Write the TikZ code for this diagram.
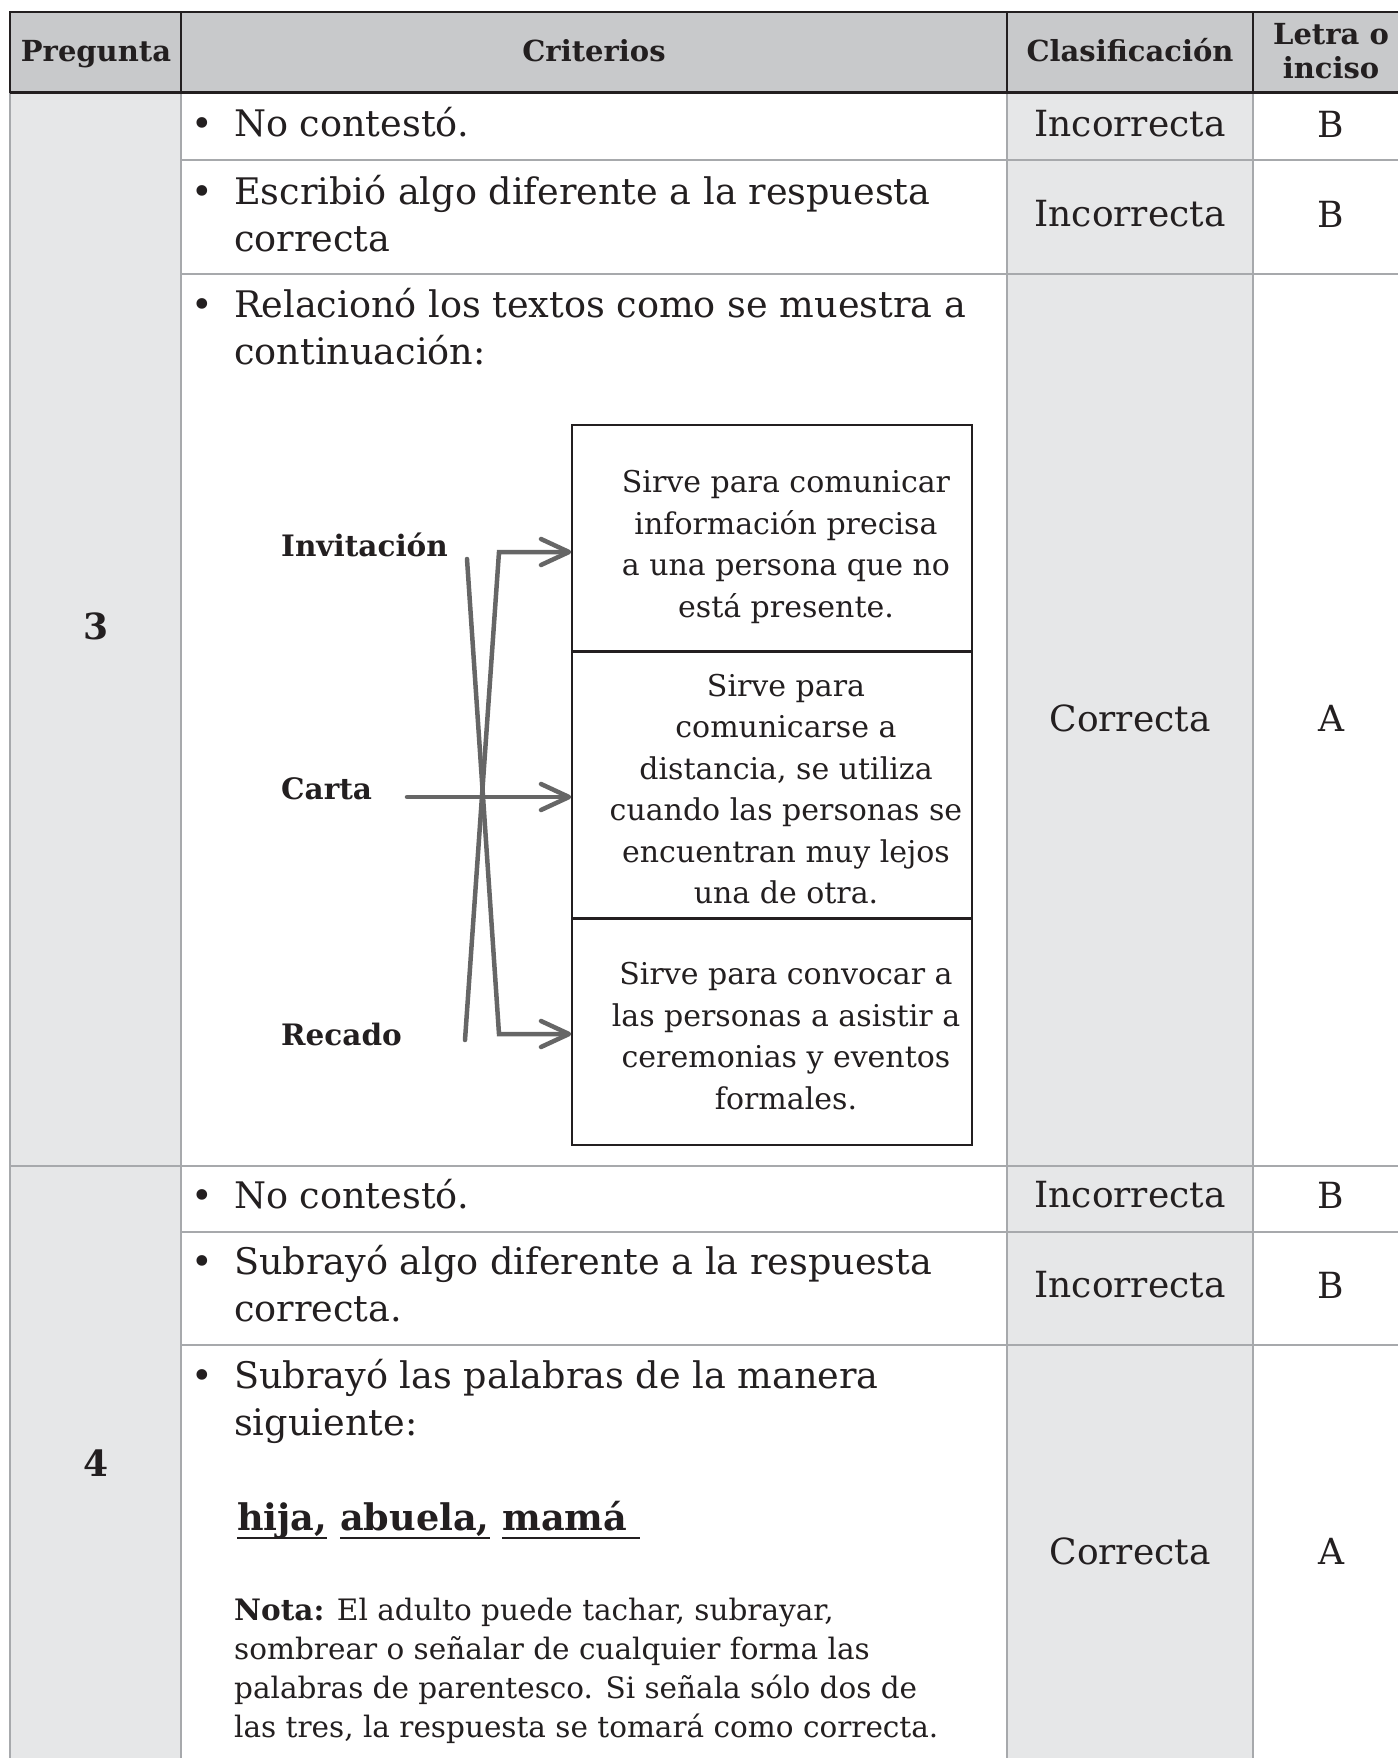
\documentclass[tikz,border=0pt]{standalone}
\usepackage{fontspec}
\setmainfont{DejaVu Serif}
\usepackage{tikz}
\usetikzlibrary{positioning, arrows.meta}
\definecolor{headgray}{RGB}{200,201,203}
\definecolor{cellgray}{RGB}{230,231,232}
\definecolor{rulegray}{RGB}{167,169,172}
\definecolor{darkline}{RGB}{35,31,32}
\definecolor{linkgray}{RGB}{102,102,102}
\tikzstyle{head} = [inner sep=0pt, anchor=base, align=center, font=\fontsize{29}{34}\selectfont\bfseries, text=darkline]
\tikzstyle{crit} = [inner sep=0pt, anchor=base west, align=left, font=\fontsize{36.6}{47}\selectfont, text=darkline]
\tikzstyle{grade} = [inner sep=0pt, font=\fontsize{36}{47}\selectfont, text=darkline]
\tikzstyle{qnum} = [inner sep=0pt, font=\fontsize{36}{43}\selectfont\bfseries, text=darkline]
\tikzstyle{kind} = [inner sep=0pt, anchor=west, font=\fontsize{29.5}{35}\selectfont\bfseries, text=darkline]
\tikzstyle{optbox} = [draw=darkline, line width=1.5pt, minimum width=400pt, inner sep=0pt]
\tikzstyle{opttext} = [inner sep=0pt, align=center, font=\fontsize{30}{41.5}\selectfont, text=darkline]
\tikzstyle{note} = [inner sep=0pt, anchor=base west, align=left, font=\fontsize{29.5}{39}\selectfont, text=darkline]
\tikzstyle{arrow} = [line width=4.5pt, draw=linkgray, line cap=round, -{Straight Barb[length=28pt,width=26pt,round]}]
\newcommand{\itembullet}{\llap{\textbullet\hspace{21pt}}}
\newsavebox{\palabrabox}
\newcommand{\subraya}[1]{\sbox{\palabrabox}{#1}\rlap{\rule[-9pt]{\wd\palabrabox}{2.5pt}}\usebox{\palabrabox}}

\begin{document}
\begin{tikzpicture}[x=1pt, y=-1pt]
\useasboundingbox (0,0) rectangle (1398,1758);
% fondos
\fill[headgray] (10,12) rectangle (1398,93);
\fill[cellgray] (10,93) rectangle (181,1758);
\fill[cellgray] (1007,93) rectangle (1253,1758);
% lineas de la tabla
\foreach \y in {160,274,1232,1345}
  \draw[rulegray, line width=2pt] (181,\y) -- (1398,\y);
\draw[rulegray, line width=2pt] (10,1166) -- (1398,1166);
\foreach \x in {10,181,1007,1253}
  \draw[rulegray, line width=2pt] (\x,93) -- (\x,1758);
\draw[darkline, line width=2pt] (1398,12) -- (10,12) -- (10,93);
\foreach \x in {181,1007,1253}
  \draw[darkline, line width=2pt] (\x,12) -- (\x,93);
\draw[darkline, line width=3pt] (10,93) -- (1398,93);

% encabezado
\node (hpreg) [head] at (96,62) {Pregunta};
\node (hcrit) [head] at (594,62) {Criterios};
\node (hclas) [head] at (1130,62) {Clasificación};
\node (hletra) [head] at (1331,79) {Letra o\\inciso};

% pregunta 3
\node (q3) [qnum] at (96,626) {3};
\node (q3a) [crit] at (234,137) {\itembullet No contestó.};
\node (q3b) [crit] at (234,251) {\itembullet Escribió algo diferente a la respuesta\\correcta};
\node (q3c) [crit] at (234,364) {\itembullet Relacionó los textos como se muestra a\\continuación:};
\node (c3a) [grade] at (1130,124) {Incorrecta};
\node (c3b) [grade] at (1130,214) {Incorrecta};
\node (c3c) [grade] at (1130,718) {Correcta};
\node (l3a) [grade] at (1331,124) {B};
\node (l3b) [grade] at (1331,214) {B};
\node (l3c) [grade] at (1331,718) {A};

% relacion de textos
\node (inv) [kind] at (281,545) {Invitación};
\node (carta) [kind] at (281,789) {Carta};
\node (recado) [kind] at (281,1034) {Recado};
\node (b1) [optbox, minimum height=226pt] at (772,538) {};
\node (b2) [optbox, minimum height=265pt, below=0pt of b1] {};
\node (b3) [optbox, minimum height=226pt, below=0pt of b2] {};
\node (t1) [opttext] at ([shift={(14,9)}]b1.center) {Sirve para comunicar\\información precisa\\a una persona que no\\está presente.};
\node (t2) [opttext] at ([shift={(14,4)}]b2.center) {Sirve para\\comunicarse a\\distancia, se utiliza\\cuando las personas se\\encuentran muy lejos\\una de otra.};
\node (t3) [opttext] at ([shift={(14,4)}]b3.center) {Sirve para convocar a\\las personas a asistir a\\ceremonias y eventos\\formales.};
\coordinate (invS) at (467,559);
\coordinate (recN) at (465,1040);
\coordinate (cartaE) at (407,797);
\coordinate (codoA) at (499,1034);
\coordinate (codoB) at (499,552);
\draw [arrow] (invS) -- (codoA) -- (codoA -| b3.west);
\draw [arrow] (cartaE) -- (cartaE -| b2.west);
\draw [arrow] (recN) -- (codoB) -- (codoB -| b1.west);

% pregunta 4
\node (q4) [qnum] at (96,1463) {4};
\node (q4a) [crit] at (234,1208) {\itembullet No contestó.};
\node (q4b) [crit] at (234,1321) {\itembullet Subrayó algo diferente a la respuesta\\correcta.};
\node (q4c) [crit] at (234,1435) {\itembullet Subrayó las palabras de la manera\\siguiente:};
\node (pal) [crit, font=\fontsize{36.6}{47}\selectfont\bfseries] at (237,1530) {\subraya{hija,} \subraya{abuela,} \subraya{mamá\ }};
\node (nota) [note] at (234,1737) {\textbf{Nota:} El adulto puede tachar, subrayar,\\sombrear o señalar de cualquier forma las\\palabras de parentesco. Si señala sólo dos de\\las tres, la respuesta se tomará como correcta.};
\node (c4a) [grade] at (1130,1195) {Incorrecta};
\node (c4b) [grade] at (1130,1285) {Incorrecta};
\node (c4c) [grade] at (1130,1551) {Correcta};
\node (l4a) [grade] at (1331,1195) {B};
\node (l4b) [grade] at (1331,1285) {B};
\node (l4c) [grade] at (1331,1551) {A};
\end{tikzpicture}
\end{document}
